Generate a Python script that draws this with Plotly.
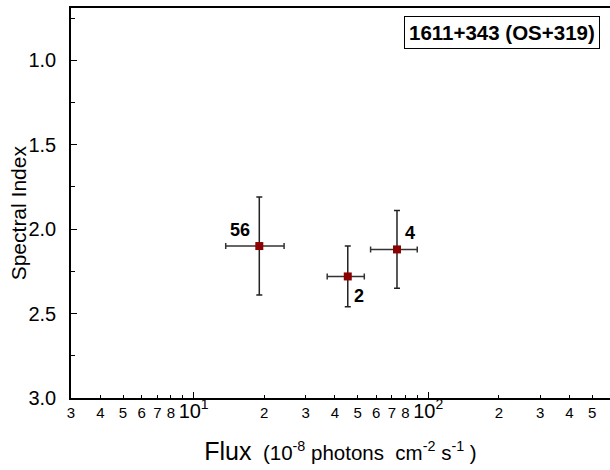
import math
import plotly.graph_objects as go

# ---- data ----
labels = ["56", "2", "4"]
flux = [19.05, 45.4, 73.6]
flux_lo = [13.7, 37.1, 56.8]
flux_hi = [24.3, 53.4, 89.8]
index = [2.10, 2.28, 2.12]
index_lo = [1.81, 2.10, 1.89]
index_hi = [2.39, 2.46, 2.35]

label_shift_x = [-19, 11, 13]
label_shift_y = [16, -20, 16]

x_tickvals = [3, 4, 5, 6, 7, 8, 10, 20, 30, 40, 50, 60, 70, 80, 100, 200, 300, 400, 500]
big = "<span style='font-size:20px'>10<sup>%d</sup></span>"
x_ticktext = ["3", "4", "5", "6", "7", "8", big % 1, "2", "3", "4", "5", "6", "7", "8",
              big % 2, "2", "3", "4", "5"]
x_unlabeled = [9, 90]
decades = [10, 100]
y_tickvals = [1.0, 1.5, 2.0, 2.5, 3.0]
y_ticktext = ["1.0", "1.5", "2.0", "2.5", "3.0"]
y_minor = [0.75, 1.25, 1.75, 2.25, 2.75]

source_name = "1611+343 (OS+319)"
y_title = "Spectral Index"
x_title = ("<span style='font-size:25px'>Flux</span>  (10<sup>-8</sup> photons  "
           "cm<sup>-2</sup> s<sup>-1</sup> )")

FONT = "Liberation Sans, Arial, sans-serif"

fig = go.Figure()
fig.add_trace(go.Scatter(
    x=flux, y=index, mode="markers",
    marker=dict(symbol="square", size=8, color="#8b0000"),
    error_x=dict(type="data", symmetric=False,
                 array=[h - v for h, v in zip(flux_hi, flux)],
                 arrayminus=[v - l for v, l in zip(flux, flux_lo)],
                 color="#333333", thickness=1.5, width=3),
    error_y=dict(type="data", symmetric=False,
                 array=[h - v for h, v in zip(index_hi, index)],
                 arrayminus=[v - l for v, l in zip(index, index_lo)],
                 color="#222222", thickness=1.5, width=3),
    showlegend=False, hoverinfo="skip",
))
# invisible helper trace so the tick-overlay axis exists
fig.add_trace(go.Scatter(x=flux, y=index, xaxis="x2", mode="markers",
                         marker=dict(opacity=0), showlegend=False, hoverinfo="skip"))

xr = [math.log10(3), 2.775]

for lab, fx, iy, dx, dy in zip(labels, flux, index, label_shift_x, label_shift_y):
    fig.add_annotation(x=math.log10(fx), y=iy, text="<b>%s</b>" % lab, showarrow=False,
                       xshift=dx, yshift=dy, font=dict(family=FONT, size=18, color="black"))

fig.add_annotation(xref="paper", yref="paper", x=0.981, y=0.979, xanchor="right", yanchor="top",
                   text="<b>%s</b>" % source_name, showarrow=False,
                   font=dict(family=FONT, size=20.5, color="black"),
                   bordercolor="black", borderwidth=1, borderpad=4, bgcolor="white")

# y-axis title
fig.add_annotation(xref="paper", yref="paper", x=-0.098, y=0.474, xanchor="center",
                   yanchor="middle", textangle=-90, text=y_title, showarrow=False,
                   font=dict(family=FONT, size=21, color="black"))

fig.update_layout(
    width=610, height=470,
    margin=dict(l=71, r=0, t=8, b=72),
    paper_bgcolor="white", plot_bgcolor="white",
    font=dict(family=FONT, color="black"),
    xaxis=dict(type="log", range=xr, showgrid=False, zeroline=False,
               showline=True, linecolor="black", linewidth=1.5, mirror=True,
               tickmode="array", tickvals=x_tickvals, ticktext=x_ticktext,
               ticks="inside", ticklen=3.5, tickwidth=1, tickcolor="black",
               tickfont=dict(size=15, family=FONT, color="black"),
               title=dict(text=x_title, font=dict(size=20.5, family=FONT, color="black"),
                          standoff=25)),
    xaxis2=dict(type="log", range=xr, overlaying="x", side="bottom", anchor="y",
                showgrid=False, zeroline=False, showline=False,
                tickmode="array", tickvals=decades, ticks="inside", ticklen=6,
                tickwidth=1, tickcolor="black", showticklabels=False,
                minor=dict(tickmode="array", tickvals=x_unlabeled, ticks="inside", ticklen=3.5,
                           tickwidth=1, tickcolor="black")),
    yaxis=dict(range=[3.0, 0.69], showgrid=False, zeroline=False,
               showline=True, linecolor="black", linewidth=1.5,
               tickmode="array", tickvals=y_tickvals, ticktext=y_ticktext,
               ticks="inside", ticklen=6, tickwidth=1, tickcolor="black",
               tickfont=dict(size=20, family=FONT, color="black"), ticklabelstandoff=9,
               minor=dict(tickmode="array", tickvals=y_minor, ticks="inside", ticklen=4,
                          tickwidth=1, tickcolor="black")),
)

fig.write_html("out.html")
